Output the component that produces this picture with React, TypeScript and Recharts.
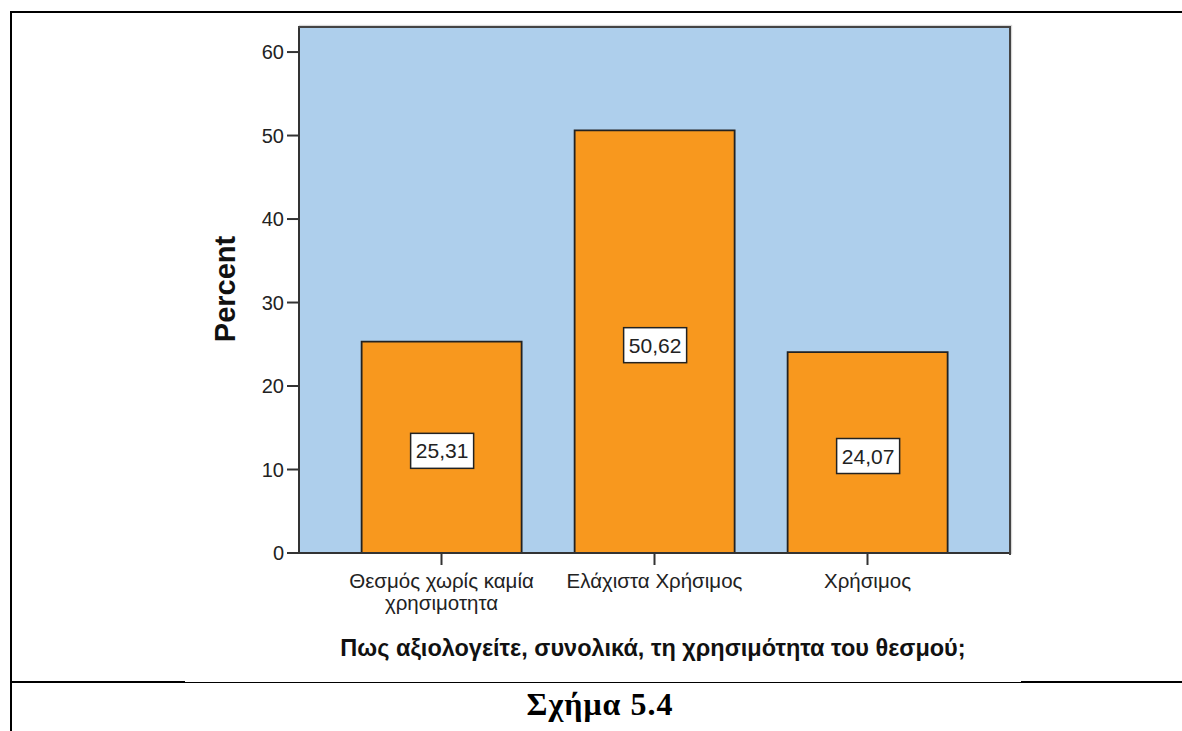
import React from 'react';
import { BarChart, Bar, XAxis, YAxis, CartesianGrid, LabelList } from 'recharts';

const categories = ['Θεσμός χωρίς καμία\nχρησιμοτητα', 'Ελάχιστα Χρήσιμος', 'Χρήσιμος'];
const percents = [25.31, 50.62, 24.07];
const yTicks = [0, 10, 20, 30, 40, 50, 60];

const data = categories.map((name, i) => ({ name, value: percents[i] }));

const FONT = '"Liberation Sans", Arial, sans-serif';

const CategoryTick = (props: any) => {
  const { x, y, payload } = props;
  const lines = String(payload.value).split('\n');
  return (
    <g transform={`translate(${x},${y})`}>
      <text textAnchor="middle" fontFamily={FONT} fontSize={20.5} fill="#222">
        {lines.map((l, i) => (
          <tspan key={i} x={0} dy={i === 0 ? 21 : 22}>
            {l}
          </tspan>
        ))}
      </text>
    </g>
  );
};

const ValueBox = (props: any) => {
  const { x, y, width, height, value } = props;
  const cx = x + width / 2;
  const cy = y + height / 2 + 3;
  const txt = Number(value).toFixed(2).replace('.', ',');
  return (
    <g>
      <rect x={cx - 31} y={cy - 17} width={63} height={35} fill="#fff" stroke="#222" strokeWidth={1.5} />
      <text x={cx + 0.5} y={cy + 8} textAnchor="middle" fontFamily={FONT} fontSize={21} fill="#222">
        {txt}
      </text>
    </g>
  );
};

export default function App() {
  return (
    <div style={{ position: 'absolute', left: 0, top: 0, width: 1182, height: 731, background: '#fff' }}>
      {/* frame lines */}
      <div style={{ position: 'absolute', left: 10, top: 11, width: 1172, height: 2, background: '#000' }} />
      <div style={{ position: 'absolute', left: 10, top: 11, width: 2, height: 720, background: '#000' }} />
      <div style={{ position: 'absolute', left: 10, top: 681, width: 175, height: 2, background: '#000' }} />
      <div style={{ position: 'absolute', left: 185, top: 682, width: 836, height: 1, background: '#000' }} />
      <div style={{ position: 'absolute', left: 1021, top: 681, width: 161, height: 2, background: '#000' }} />

      <BarChart
        width={1182}
        height={731}
        data={data}
        margin={{ top: 27, right: 172, left: 239, bottom: 108 }}
        barCategoryGap="12.5%"
        style={{ position: 'absolute', left: 0, top: 0 }}
      >
        <CartesianGrid fill="#AECFEC" horizontal={false} vertical={false} />
        <XAxis
          dataKey="name"
          height={70}
          padding={{ left: 36, right: 36 }}
          tickSize={12}
          tickMargin={2}
          tick={<CategoryTick />}
          axisLine={{ stroke: '#333', strokeWidth: 2 }}
          tickLine={{ stroke: '#333', strokeWidth: 2 }}
        />
        <YAxis
          width={60}
          domain={[0, 63]}
          ticks={yTicks}
          tickSize={12}
          tickMargin={3}
          tick={{ fontFamily: FONT, fontSize: 20, fill: '#222' }}
          axisLine={{ stroke: '#333', strokeWidth: 2 }}
          tickLine={{ stroke: '#333', strokeWidth: 2 }}
        />
        <Bar dataKey="value" fill="#F8981E" stroke="#222" strokeWidth={1.8} isAnimationActive={false}>
          <LabelList dataKey="value" content={<ValueBox />} />
        </Bar>
      </BarChart>

      {/* plot frame top/right */}
      <div
        style={{
          position: 'absolute',
          left: 298,
          top: 26,
          width: 711,
          height: 527,
          borderTop: '2px solid #444',
          borderRight: '2px solid #444',
          boxShadow: '1px -1px 1px rgba(0,0,0,0.15)',
          pointerEvents: 'none',
        }}
      />

      <div
        style={{
          position: 'absolute',
          left: 225,
          top: 289,
          transform: 'translate(-50%, -50%) rotate(-90deg)',
          fontFamily: FONT,
          fontWeight: 'bold',
          fontSize: 29,
          color: '#111',
          whiteSpace: 'nowrap',
        }}
      >
        Percent
      </div>

      <div
        style={{
          position: 'absolute',
          left: 653,
          top: 648,
          transform: 'translate(-50%, -50%)',
          fontFamily: FONT,
          fontWeight: 'bold',
          fontSize: 23.5,
          color: '#111',
          whiteSpace: 'nowrap',
        }}
      >
        Πως αξιολογείτε, συνολικά, τη χρησιμότητα του θεσμού;
      </div>

      <div
        style={{
          position: 'absolute',
          left: 600,
          top: 704,
          transform: 'translate(-50%, -50%)',
          fontFamily: '"Liberation Serif", "Times New Roman", serif',
          fontWeight: 'bold',
          fontSize: 32,
          letterSpacing: 1,
          color: '#000',
          whiteSpace: 'nowrap',
        }}
      >
        Σχήμα 5.4
      </div>
    </div>
  );
}
